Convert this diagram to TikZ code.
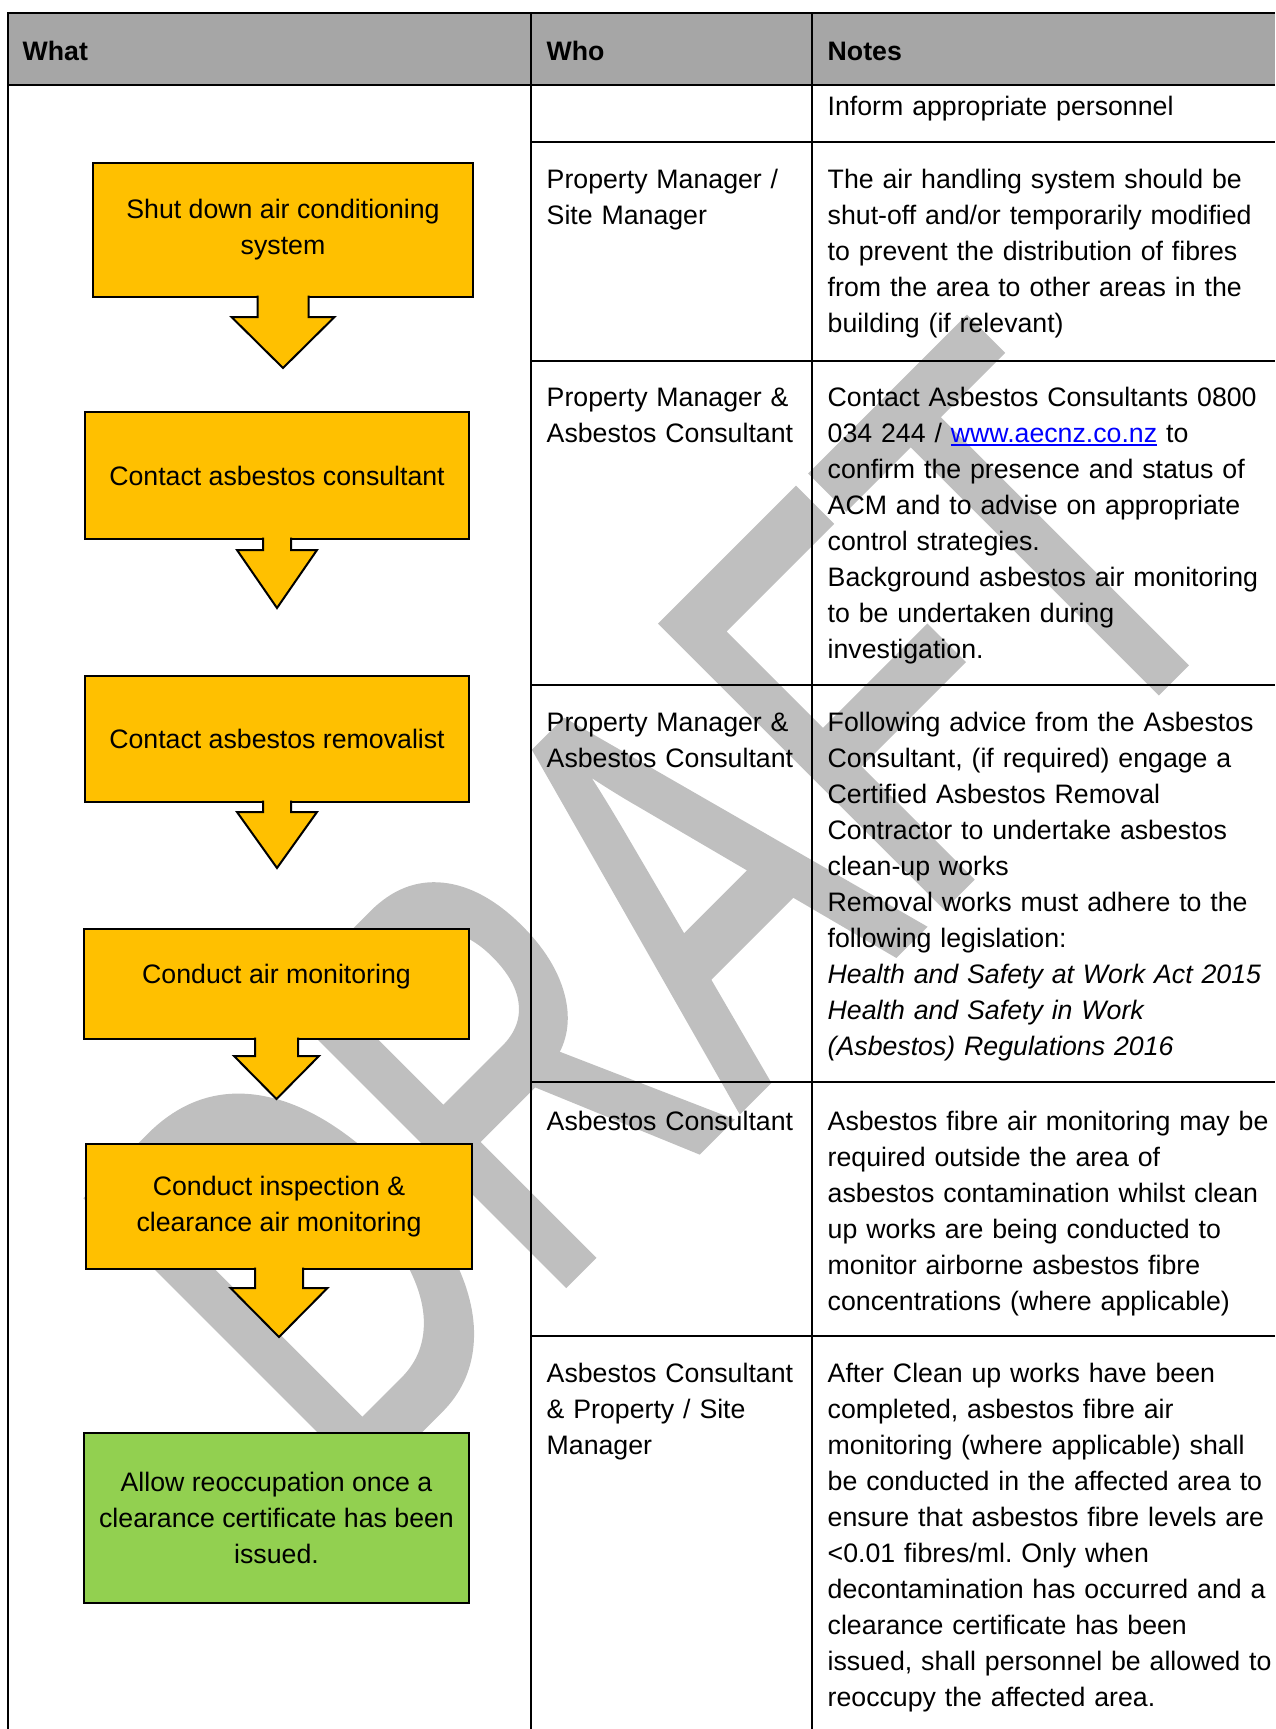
\documentclass[tikz,border=0pt]{standalone}
\usepackage{fontspec}
\setmainfont{Liberation Sans}
\newfontfamily\draftfont[FakeBold=1.8]{Liberation Sans}
\usepackage{tikz}

\definecolor{headgray}{RGB}{166,166,166}
\definecolor{boxyellow}{RGB}{255,192,0}
\definecolor{boxgreen}{RGB}{146,208,80}
\definecolor{draftgray}{RGB}{191,191,191}
\definecolor{linkblue}{RGB}{0,0,255}

\newcommand{\linkul}[1]{\setbox0\hbox{#1}\rlap{\rule[-3.5pt]{\wd0}{1.6pt}}\box0}
\frenchspacing

\begin{document}
\begin{tikzpicture}[x=1pt, y=-1pt,
  txt/.style={anchor=base west, inner sep=0pt, align=left, font=\fontsize{26.7}{36}\selectfont},
  who/.style={txt, text width=262pt},
  notes/.style={txt, text width=445pt},
  stepbox/.style={draw, line width=2pt, fill=boxyellow, inner sep=0pt, outer sep=0pt, align=center, font=\fontsize{26.7}{36}\selectfont},
  downarrow/.style={draw, line width=2pt, fill=boxyellow},
  grid/.style={line width=2pt}]

\useasboundingbox (0, 0) rectangle (1275, 1729);

% watermark
\node [anchor=base west, inner sep=0pt, rotate=45, yscale=1.49, text=draftgray, font=\draftfont\fontsize{385}{385}\selectfont] (draft) at (346, 1501) {DRAFT};

% table
\fill [headgray] (7.5, 13) rectangle (1275, 85);
\draw [grid] (1275, 13) -- (7.5, 13) -- (7.5, 1729);
\draw [grid] (7.5, 85) -- (1275, 85);
\draw [grid] (531, 13) -- (531, 1729);
\draw [grid] (812, 13) -- (812, 1729);
\draw [grid] (531, 142.3) -- (1275, 142.3);
\draw [grid] (531, 360.6) -- (1275, 360.6);
\draw [grid] (531, 685) -- (1275, 685);
\draw [grid] (531, 1082) -- (1275, 1082);
\draw [grid] (531, 1336) -- (1275, 1336);

\node [txt, font=\fontsize{26.7}{36}\selectfont\bfseries] (what) at (22.5, 60) {What};
\node [txt, font=\fontsize{26.7}{36}\selectfont\bfseries] (who) at (546.5, 60) {Who};
\node [txt, font=\fontsize{26.7}{36}\selectfont\bfseries] (notes) at (827.5, 60) {Notes};

% steps
\node [stepbox, minimum width=380pt, minimum height=134pt] (shut) at (283, 230) {Shut down air conditioning\\system};
\node [stepbox, minimum width=384pt, minimum height=127pt] (consult) at (277, 475.5) {Contact asbestos consultant};
\node [stepbox, minimum width=384pt, minimum height=126pt] (removal) at (277, 739) {Contact asbestos removalist};
\node [stepbox, minimum width=385pt, minimum height=110pt, text depth=20pt] (monitor) at (276.5, 984) {Conduct air monitoring};
\node [stepbox, minimum width=386pt, minimum height=125pt] (inspect) at (279, 1206.5) {Conduct inspection \&\\clearance air monitoring};
\node [stepbox, fill=boxgreen, minimum width=385pt, minimum height=170pt] (allow) at (276.5, 1518) {Allow reoccupation once a\\clearance certificate has been\\issued.};

\draw [downarrow] ([shift={(-25.5, -1.5)}] shut.south) -- ++(0, 21.5) -- ++(-26, 0) -- ++(51.5, 51) -- ++(51.5, -51) -- ++(-26, 0) -- ++(0, -21.5);
\draw [downarrow] ([shift={(-14, -1.5)}] consult.south) -- ++(0, 12.5) -- ++(-26, 0) -- ++(40, 58) -- ++(40, -58) -- ++(-26, 0) -- ++(0, -12.5);
\draw [downarrow] ([shift={(-14, -1.5)}] removal.south) -- ++(0, 11.5) -- ++(-26, 0) -- ++(40, 56) -- ++(40, -56) -- ++(-26, 0) -- ++(0, -11.5);
\draw [downarrow] ([shift={(-21.5, -1.5)}] monitor.south) -- ++(0, 18.5) -- ++(-21, 0) -- ++(42.5, 43) -- ++(42.5, -43) -- ++(-21, 0) -- ++(0, -18.5);
\draw [downarrow] ([shift={(-24, -1.5)}] inspect.south) -- ++(0, 20.5) -- ++(-24.5, 0) -- ++(48.5, 49) -- ++(48.5, -49) -- ++(-24.5, 0) -- ++(0, -20.5);

% who
\node [who] (who2) at (546.5, 188) {Property Manager /\\Site Manager};
\node [who] (who3) at (546.5, 406) {Property Manager \&\\Asbestos Consultant};
\node [who] (who4) at (546.5, 731) {Property Manager \&\\Asbestos Consultant};
\node [who] (who5) at (546.5, 1130) {Asbestos Consultant};
\node [who] (who6) at (546.5, 1382) {Asbestos Consultant\\\& Property / Site\\Manager};

% notes
\node [notes] (note1) at (827.5, 115) {Inform appropriate personnel};
\node [notes] (note2) at (827.5, 188) {The air handling system should be\\shut-off and/or temporarily modified\\to prevent the distribution of fibres\\from the area to other areas in the\\building (if relevant)};
\node [notes] (note3) at (827.5, 406) {Contact Asbestos Consultants 0800\\034 244 / {\color{linkblue}\linkul{www.aecnz.co.nz}} to\\confirm the presence and status of\\ACM and to advise on appropriate\\control strategies.\\Background asbestos air monitoring\\to be undertaken during\\investigation.};
\node [notes] (note4) at (827.5, 731) {Following advice from the Asbestos\\Consultant, (if required) engage a\\Certified Asbestos Removal\\Contractor to undertake asbestos\\clean-up works\\Removal works must adhere to the\\following legislation:\\\textit{Health and Safety at Work Act 2015}\\\textit{Health and Safety in Work}\\\textit{(Asbestos) Regulations 2016}};
\node [notes] (note5) at (827.5, 1130) {Asbestos fibre air monitoring may be\\required outside the area of\\asbestos contamination whilst clean\\up works are being conducted to\\monitor airborne asbestos fibre\\concentrations (where applicable)};
\node [notes] (note6) at (827.5, 1382) {After Clean up works have been\\completed, asbestos fibre air\\monitoring (where applicable) shall\\be conducted in the affected area to\\ensure that asbestos fibre levels are\\<0.01 fibres/ml. Only when\\decontamination has occurred and a\\clearance certificate has been\\issued, shall personnel be allowed to\\reoccupy the affected area.};

\end{tikzpicture}
\end{document}
